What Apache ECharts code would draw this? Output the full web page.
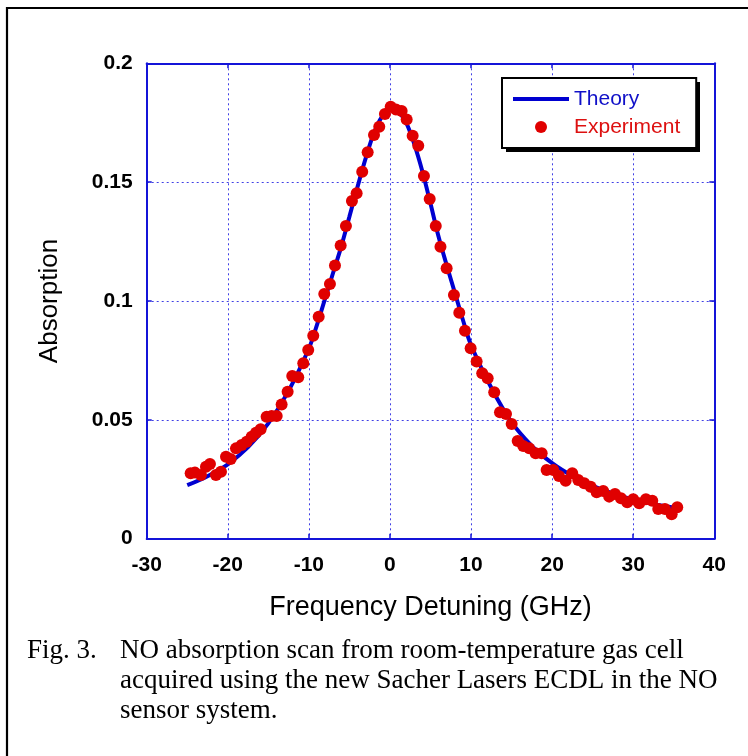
<!DOCTYPE html>
<html>
<head>
<meta charset="utf-8">
<style>
html,body{margin:0;padding:0;background:#fff;}
#chart{width:748px;height:756px;}
</style>
<script src="https://cdn.jsdelivr.net/npm/echarts@6/dist/echarts.min.js"></script>
</head>
<body>
<div id="chart"></div>
<script>
// ---- data ----
var xTicks = [-30, -20, -10, 0, 10, 20, 30, 40];
var yTicks = [0, 0.05, 0.1, 0.15, 0.2];

var theoryX = [-25,-22.5,-20,-17.5,-15,-12.5,-10,-9,-8,-7,-6,-5,-4,-3,-2,-1,0,0.5,1,2,3,4,5,6,7,8,9,10,12.5,15,17.5,20,22.5,25,27.5,30,32.5,35.5];
var theoryY = [0.0225,0.0263,0.0313,0.0385,0.0485,0.0622,0.0800,0.0900,0.1010,0.1120,0.1230,0.1355,0.1480,0.1600,0.1705,0.1775,0.1805,0.1808,0.1800,0.1750,0.1660,0.1545,0.1410,0.1270,0.1150,0.1035,0.0920,0.0815,0.0635,0.0490,0.0390,0.0318,0.0264,0.0222,0.0190,0.0165,0.0146,0.0128];

var expX = [-24.58,-24.05,-23.31,-22.69,-22.20,-21.46,-20.84,-20.22,-19.64,-18.99,
  -18.29,-17.67,-17.06,-16.52,-15.95,-15.21,-14.59,-13.97,-13.36,-12.62,
  -12.05,-11.31,-10.69,-10.08,-9.46,-8.79,-8.10,-7.40,-6.78,-6.08,
  -5.43,-4.69,-4.11,-3.42,-2.75,-1.97,-1.32,-0.62,0.09,0.74,
  1.44,2.06,2.80,3.49,4.19,4.90,5.65,6.23,6.99,7.89,
  8.55,9.25,9.95,10.69,11.38,12.05,12.86,13.57,14.31,15.01,
  15.75,16.44,17.18,17.97,18.71,19.32,20.14,20.84,21.67,22.48,
  23.22,23.96,24.75,25.49,26.30,27.04,27.75,28.49,29.26,30.00,
  30.74,31.57,32.35,33.09,33.91,34.74,35.43];
var expY = [0.0275,0.0278,0.0268,0.0303,0.0314,0.0268,0.0282,0.0345,0.0335,0.0380,
  0.0394,0.0408,0.0429,0.0446,0.0460,0.0513,0.0516,0.0516,0.0565,0.0618,
  0.0684,0.0679,0.0738,0.0794,0.0854,0.0934,0.1029,0.1072,0.1149,0.1233,
  0.1316,0.1421,0.1453,0.1544,0.1626,0.1698,0.1733,0.1787,0.1817,0.1806,
  0.1799,0.1764,0.1695,0.1653,0.1526,0.1429,0.1316,0.1228,0.1138,0.1025,
  0.0951,0.0875,0.0801,0.0745,0.0696,0.0675,0.0616,0.0532,0.0525,0.0483,
  0.0411,0.0390,0.0380,0.0359,0.0359,0.0289,0.0289,0.0264,0.0244,0.0275,
  0.0247,0.0233,0.0219,0.0195,0.0201,0.0177,0.0188,0.0170,0.0153,0.0166,
  0.0149,0.0166,0.0160,0.0125,0.0125,0.0103,0.0132];

var xTitle = 'Frequency Detuning (GHz)';
var yTitle = 'Absorption';
var seriesNames = ['Theory', 'Experiment'];
var captionLabel = 'Fig. 3.';
var captionLines = [
  'NO absorption scan from room-temperature gas cell',
  'acquired using the new Sacher Lasers ECDL in the NO',
  'sensor system.'
];

// ---- build ----
function zip(a, b) { return a.map(function (v, i) { return [v, b[i]]; }); }

var SANS = 'Liberation Sans, Arial, Helvetica, sans-serif';
var SERIF = 'Liberation Serif, Times New Roman, Times, serif';
var AXIS_BLUE = '#1414d8';
var GRID_BLUE = '#4040e6';
var LINE_BLUE = '#0000d0';
var DOT_RED = '#e00000';

var chart = echarts.init(document.getElementById('chart'), null, { renderer: 'canvas' });

var commonAxis = {
  axisLine: { show: true, onZero: false, lineStyle: { color: AXIS_BLUE, width: 2 } },
  axisTick: { show: true, inside: true, length: 5, lineStyle: { color: AXIS_BLUE, width: 1.5 } }
};

chart.setOption({
  animation: false,
  backgroundColor: '#fff',
  grid: { left: 146.7, right: 33.7, top: 63.3, bottom: 217.3, containLabel: false },
  xAxis: [
    Object.assign({
      type: 'value', min: xTicks[0], max: xTicks[xTicks.length - 1], interval: 10,
      position: 'bottom',
      name: xTitle, nameLocation: 'middle', nameGap: 55,
      nameTextStyle: { fontFamily: SANS, fontSize: 27, color: '#000' },
      axisLabel: { fontFamily: SANS, fontSize: 21, fontWeight: 'bold', color: '#000', margin: 16 },
      splitLine: { show: true, lineStyle: { color: GRID_BLUE, width: 1, type: [2, 3] } }
    }, commonAxis),
    Object.assign({
      type: 'value', min: xTicks[0], max: xTicks[xTicks.length - 1], interval: 10,
      position: 'top', axisLabel: { show: false }, splitLine: { show: false }
    }, commonAxis)
  ],
  yAxis: [
    Object.assign({
      type: 'value', min: yTicks[0], max: yTicks[yTicks.length - 1], interval: 0.05,
      position: 'left',
      name: yTitle, nameLocation: 'middle', nameGap: 84, nameRotate: 90,
      nameTextStyle: { fontFamily: SANS, fontSize: 26, color: '#000' },
      axisLabel: { fontFamily: SANS, fontSize: 21, fontWeight: 'bold', color: '#000', margin: 14 },
      splitLine: { show: true, lineStyle: { color: GRID_BLUE, width: 1, type: [2, 3] } }
    }, commonAxis),
    Object.assign({
      type: 'value', min: yTicks[0], max: yTicks[yTicks.length - 1], interval: 0.05,
      position: 'right', axisLabel: { show: false }, splitLine: { show: false }
    }, commonAxis)
  ],
  legend: {
    show: true,
    orient: 'vertical',
    left: 502, top: 78,
    padding: [10, 16, 10, 11],
    itemWidth: 56, itemHeight: 12, itemGap: 6,
    backgroundColor: '#fff',
    borderColor: '#000', borderWidth: 2,
    selectedMode: false,
    z: 10,
    textStyle: { fontFamily: SANS, fontSize: 21, lineHeight: 22 },
    data: [
      { name: seriesNames[0], icon: 'path://M0,0h56v4h-56z', itemStyle: { color: LINE_BLUE }, textStyle: { color: '#1010c8' } },
      { name: seriesNames[1], icon: 'circle', textStyle: { color: '#dd1010' } }
    ]
  },
  series: [
    {
      name: seriesNames[0], type: 'line', xAxisIndex: 0, yAxisIndex: 0,
      data: zip(theoryX, theoryY), smooth: 0.35, symbol: 'none',
      lineStyle: { color: LINE_BLUE, width: 4 }, itemStyle: { color: LINE_BLUE }, z: 2
    },
    {
      name: seriesNames[1], type: 'scatter', xAxisIndex: 0, yAxisIndex: 0,
      data: zip(expX, expY), symbol: 'circle', symbolSize: 12,
      itemStyle: { color: DOT_RED, opacity: 1 }, z: 3
    }
  ],
  graphic: [
    { type: 'rect', shape: { x: 7, y: 8, width: 800, height: 800 },
      style: { fill: null, stroke: '#000', lineWidth: 2.2 }, silent: true, z: 0 },
    { type: 'rect', shape: { x: 506, y: 82, width: 194, height: 70 },
      style: { fill: '#000' }, silent: true, z: 1 },
    { type: 'text', left: 27, top: 636,
      style: { text: captionLabel, font: '27px ' + SERIF, fill: '#000', lineHeight: 30 } },
    { type: 'text', left: 120, top: 636,
      style: { text: captionLines.join('\n'), font: '27px ' + SERIF, fill: '#000', lineHeight: 30 } }
  ]
});
</script>
</body>
</html>
